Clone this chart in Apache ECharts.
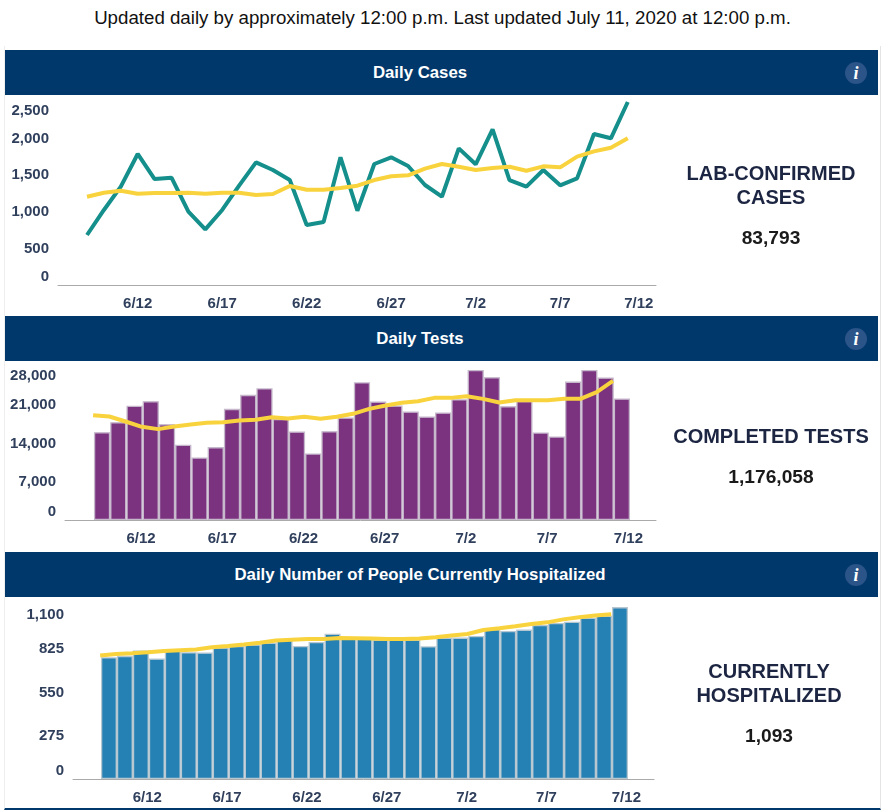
<!DOCTYPE html>
<html>
<head>
<meta charset="utf-8">
<title>Daily Cases</title>
<script src="https://cdn.jsdelivr.net/npm/echarts@6/dist/echarts.min.js"></script>
<style>
  html, body { margin: 0; padding: 0; background: #fff; }
  body { width: 889px; height: 811px; position: relative; overflow: hidden; font-family: "Liberation Sans", Arial, sans-serif; }
  .updated { position: absolute; left: 0; top: 8px; width: 885px; text-align: center; font-size: 18.7px; line-height: 20px; color: #111; }
  .frame { position: absolute; left: 4px; top: 46px; width: 875px; height: 762px; border-left: 1px solid #eee; border-right: 1px solid #e4e4e4; border-bottom: 2px solid #00386c; box-sizing: content-box; }
  .head { position: absolute; left: 5px; width: 830px; height: 45px; padding-right: 43px; background: #00386c; color: #fff; font-weight: bold; font-size: 16.8px; line-height: 45px; text-align: center; }
  .head i { position: absolute; right: 11px; top: 12px; width: 22px; height: 22px; border-radius: 50%; background: #2b5488; font: italic bold 18px/22px "Liberation Serif", serif; color: #fff; }
  .chart { position: absolute; left: 0; width: 670px; }
  .side { position: absolute; left: 660px; width: 222px; text-align: center; font-weight: bold; }
  .side .name { font-size: 20px; line-height: 24px; color: #1c2541; }
  .side .total { font-size: 19.2px; line-height: 22px; color: #1a1a1a; margin-top: 18px; }
</style>
</head>
<body>
<div class="updated">Updated daily by approximately 12:00 p.m. Last updated July 11, 2020 at 12:00 p.m.</div>
<div class="frame"></div>

<div class="head" style="top:50px">Daily Cases<i>i</i></div>
<div class="chart" id="cases" style="top:95px;height:221px"></div>
<div class="side" style="top:161px"><div class="name">LAB-CONFIRMED<br>CASES</div><div class="total">83,793</div></div>

<div class="head" style="top:316px">Daily Tests<i>i</i></div>
<div class="chart" id="tests" style="top:361px;height:191px"></div>
<div class="side" style="top:424px"><div class="name">COMPLETED TESTS</div><div class="total">1,176,058</div></div>

<div class="head" style="top:552px">Daily Number of People Currently Hospitalized<i>i</i></div>
<div class="chart" id="hosp" style="top:597px;height:212px"></div>
<div class="side" style="top:659px;left:658px"><div class="name">CURRENTLY<br>HOSPITALIZED</div><div class="total">1,093</div></div>

<script>
// one entry per day, 6/9 to 7/11
const casesDaily = [683,1025,1343,1790,1448,1466,1001,760,1025,1357,1676,1571,1434,820,860,1744,1015,1653,1744,1626,1366,1206,1867,1649,2127,1434,1343,1571,1362,1457,2063,2004,2500];
const casesAvg = [1206,1261,1288,1247,1257,1257,1261,1247,1261,1261,1229,1243,1352,1302,1302,1325,1357,1434,1485,1498,1589,1653,1616,1571,1598,1616,1561,1621,1607,1753,1826,1876,2004];
const testsDaily = [16080,17900,20900,21740,17540,13760,11450,13340,20340,22900,24100,18500,16200,12180,16260,18760,25200,21680,20950,19850,18940,19670,22100,27470,26130,20830,21800,16020,15290,25330,27470,26070,22230];
const testsAvg = [19180,18940,18030,17050,16630,17110,17480,17780,17900,18210,18330,18820,18570,18880,18510,18880,19430,20340,20950,21440,21740,22350,22350,22650,22170,21500,21920,21920,21920,22170,22170,23390,25460];
const hospDaily = [774,783,817,766,827,806,804,836,846,855,867,890,846,871,924,901,892,886,886,886,844,899,899,909,952,941,950,979,992,1000,1025,1038,1093];
const hospAvg = [785,795,800,806,814,819,823,838,846,855,867,880,886,890,890,897,895,893,890,890,893,901,912,922,947,958,971,985,996,1015,1028,1040,1047];

const xTickLabels = ['6/12','6/17','6/22','6/27','7/2','7/7','7/12'];
const xTickDays = [3,8,13,18,23,28,33];
const casesTicks = [0,500,1000,1500,2000,2500];
const testsTicks = [0,7000,14000,21000,28000];
const hospTicks = [0,275,550,825,1100];

const textColor = '#2f3f5c';
const labelFont = { color: textColor, fontWeight: 'bold', fontSize: 15, fontFamily: '"Liberation Sans", Arial, sans-serif' };

function draw(id, cfg) {
  const chart = echarts.init(document.getElementById(id));
  const ticks = cfg.ticks;
  const series = [];
  if (cfg.bars) {
    series.push({
      type: 'bar',
      data: cfg.bars.map((v, i) => [i, v]),
      barWidth: cfg.barWidth,
      itemStyle: { color: cfg.barColor, borderColor: cfg.barBorder, borderWidth: 1.3 },
      silent: true
    });
  }
  if (cfg.line) {
    series.push({
      type: 'line',
      data: cfg.line.map((v, i) => [i, v]),
      showSymbol: false,
      lineStyle: { color: cfg.lineColor, width: 4 },
      silent: true
    });
  }
  series.push({
    type: 'line',
    data: cfg.avg.map((v, i) => [i + cfg.avgShift, v]),
    showSymbol: false,
    lineStyle: { color: '#f9d33d', width: 4 },
    z: 5,
    silent: true
  });

  const labelDays = xTickDays.map((d, i) => d + cfg.labelShift + (i === xTickDays.length - 1 ? cfg.lastShift : 0));

  chart.setOption({
    animation: false,
    grid: { left: cfg.left, width: cfg.width, top: cfg.top, height: cfg.height },
    xAxis: {
      type: 'value',
      min: cfg.xMin,
      max: cfg.xMax,
      splitLine: { show: false },
      axisTick: { show: false },
      axisLine: { show: true, lineStyle: { color: '#aaaaaa', width: 1 } },
      axisLabel: Object.assign({}, labelFont, {
        margin: cfg.xMargin,
        customValues: labelDays,
        formatter: v => xTickLabels[labelDays.indexOf(v)],
        hideOverlap: false
      })
    },
    yAxis: {
      type: 'value',
      min: ticks[0],
      max: ticks[ticks.length - 1],
      interval: ticks[1] - ticks[0],
      splitLine: { show: false },
      axisTick: { show: false },
      axisLine: { show: false },
      axisLabel: Object.assign({}, labelFont, {
        margin: 9,
        lineHeight: 17,
        verticalAlignMinLabel: 'bottom',
        verticalAlignMaxLabel: 'top',
        formatter: v => v.toLocaleString('en-US')
      })
    },
    series: series
  });
  return chart;
}

draw('cases', {
  ticks: casesTicks, line: casesDaily, lineColor: '#148f8b', avg: casesAvg, avgShift: 0,
  left: 58, width: 598, top: 7, height: 183,
  xMin: -1.716, xMax: 33.67, labelShift: 0, lastShift: -0.35, xMargin: 11
});
draw('tests', {
  ticks: testsTicks, bars: testsDaily, barColor: '#7b3380', barBorder: '#c6b8cb', barWidth: 16.2, avg: testsAvg, avgShift: -0.55,
  left: 65, width: 591, top: 6, height: 153,
  xMin: -2.28, xMax: 34.1, labelShift: -0.6, lastShift: 0, xMargin: 11
});
draw('hosp', {
  ticks: hospTicks, bars: hospDaily, barColor: '#2580b3', barBorder: '#b7c7d1', barWidth: 15.95, avg: hospAvg, avgShift: -0.55,
  left: 73, width: 581, top: 9, height: 173,
  xMin: -2.25, xMax: 34.13, labelShift: -0.6, lastShift: 0, xMargin: 11
});
</script>
</body>
</html>
